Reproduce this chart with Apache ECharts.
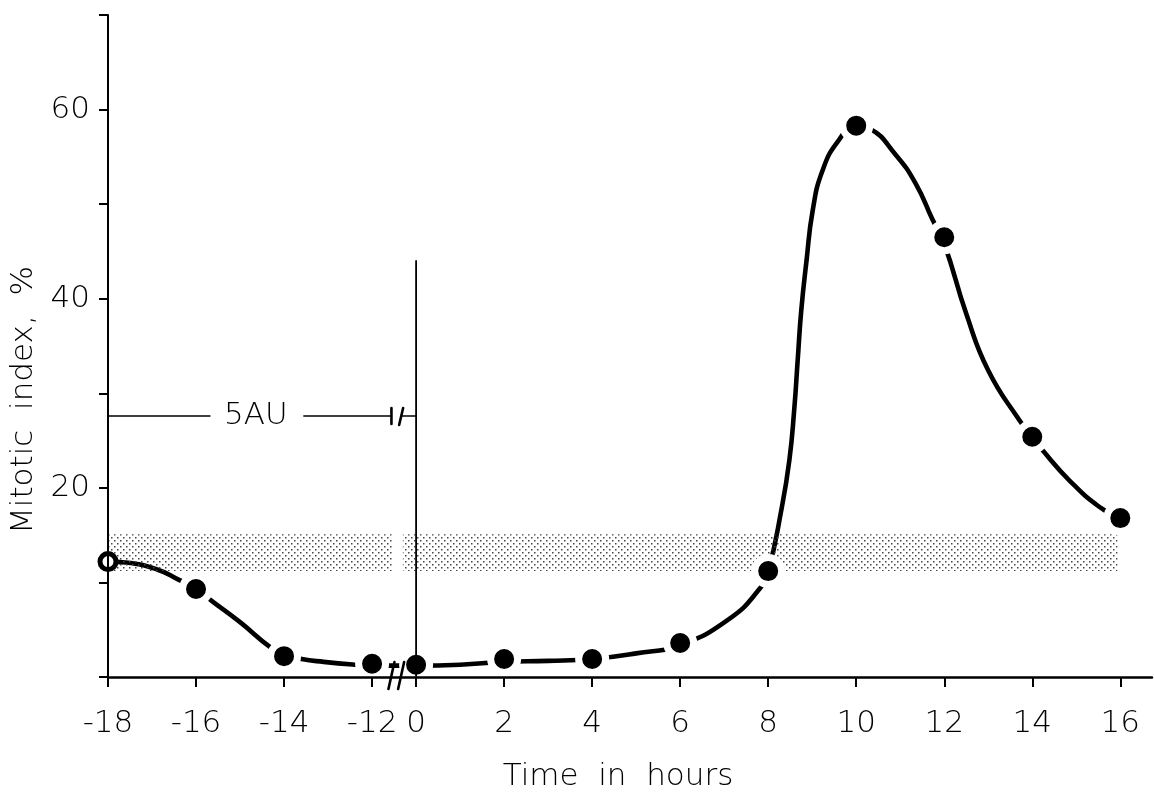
<!DOCTYPE html>
<html>
<head>
<meta charset="utf-8">
<title>Mitotic index</title>
<script src="https://cdn.jsdelivr.net/npm/echarts@6/dist/echarts.min.js"></script>
<style>
  html, body { margin: 0; padding: 0; background: #fff; }
  #chart { width: 1154px; height: 797px; }
</style>
</head>
<body>
<div id="chart"></div>
<script>
var hours = [-18, -16, -14, -12, 0, 2, 4, 6, 8, 10, 12, 14, 16]
var mitoticIndex = [12.2, 9.3, 2.2, 1.4, 1.3, 1.9, 1.9, 3.6, 11.2, 58.3, 46.5, 25.4, 16.8]
// the hand-drawn curve
var curveHours = [-18, -17.6, -16.9, -16.4, -16, -15.6, -15, -14.3, -14, -13.6, -13.1, -12.4, -12,
  0, 1, 2, 3, 4, 5, 6, 7.1, 7.8, 8, 8.3, 8.48, 8.59, 8.67, 8.75, 8.87, 9.01, 9.23, 9.58,
  10, 10.3, 10.9, 11.36, 11.73, 12, 12.5, 13, 13.7, 14, 14.23, 14.84, 15.52, 16]
var curveValues = [12.2, 12.1, 11.4, 10.3, 9.3, 7.9, 5.8, 3.1, 2.4, 1.9, 1.6, 1.3, 1.2,
  1.2, 1.3, 1.6, 1.7, 1.9, 2.5, 3.4, 6.1, 9.3, 11.2, 17.7, 22.9, 28.2, 33.5, 38.7, 44.0, 49.3, 53.5, 56.6,
  58.3, 58.0, 55.2, 52.1, 48.4, 45.8, 38.4, 32.4, 27.2, 25.4, 24.0, 20.8, 18.0, 16.8]
var xTickHours = [-18, -16, -14, -12, 0, 2, 4, 6, 8, 10, 12, 14, 16]
var normalRange = [11.2, 15.1]
var saLevel = 27.6
var saLabel = '5AU'
var zeroLineTop = 44

// time axis is broken between -12 h and 0 h
function toPos (h) {
  return h <= -12 ? (h + 18) / 2 : 3.5 + h / 2
}
function toHour (p) {
  return p <= 3 ? Math.round(p * 2 - 18) : Math.round((p - 3.5) * 2)
}

var FONT = "'DejaVu Sans', sans-serif"
var WEIGHT = 200
var INK = '#000'

// stipple for the shaded band
var dots = document.createElement('canvas')
dots.width = 6
dots.height = 6
var g = dots.getContext('2d')
g.fillStyle = '#444'
g.fillRect(0, 0, 1.5, 1.5)
g.fillRect(3, 3, 1.5, 1.5)

var pointData = hours.map(function (h, i) {
  return [toPos(h), mitoticIndex[i]]
})
var curveData = curveHours.map(function (h, i) {
  return [toPos(h), curveValues[i]]
})

function seg (x1, y1, x2, y2, w) {
  return {
    type: 'line',
    shape: { x1: x1, y1: y1, x2: x2, y2: y2 },
    style: { stroke: INK, lineWidth: w || 1.6, lineCap: 'round' }
  }
}

function renderNotes (params, api) {
  var px = function (p) { return api.coord([p, 0])[0] }
  var py = function (v) { return api.coord([0, v])[1] }
  var y5 = py(saLevel)
  var xTxt = px(1.68)
  var xBar = px(3.22)
  var xSl = px(3.33)
  var xZero = px(toPos(0))
  var yBase = py(0)
  return {
    type: 'group',
    children: [
      seg(px(0), y5, xTxt - 46, y5),
      {
        type: 'text',
        style: {
          text: saLabel, x: xTxt, y: y5, align: 'center', verticalAlign: 'middle',
          font: WEIGHT + ' 31px ' + FONT, fill: INK
        }
      },
      seg(xTxt + 48, y5, xBar, y5),
      seg(xBar, y5 - 8, xBar, y5 + 8, 2.6),
      seg(xSl - 2, y5 + 9, xSl + 2, y5 - 8, 2.6),
      seg(xSl + 1, y5, xZero, y5),
      seg(xZero, py(zeroLineTop), xZero, yBase, 1.8),
      seg(px(3.22) - 3, yBase + 12, px(3.22) + 3, yBase - 15, 2.6),
      seg(px(3.33) - 3, yBase + 12, px(3.33) + 3, yBase - 15, 2.6)
    ]
  }
}

function renderBand (params, api) {
  var a = api.coord([api.value(0), normalRange[1]])
  var b = api.coord([api.value(1), normalRange[0]])
  return {
    type: 'rect',
    shape: { x: a[0], y: a[1], width: b[0] - a[0], height: b[1] - a[1] },
    style: { fill: { image: dots, repeat: 'repeat' } }
  }
}

var chart = echarts.init(document.getElementById('chart'))
var option = {
  animation: false,
  backgroundColor: '#fff',
  textStyle: { fontFamily: FONT, fontWeight: WEIGHT },
  grid: { left: 108, right: 2, top: 15, bottom: 119 },
  xAxis: {
    type: 'value',
    min: 0,
    max: 11.86,
    z: 10,
    name: 'Time  in  hours',
    nameLocation: 'middle',
    nameGap: 84,
    nameTextStyle: { fontSize: 31, color: INK, fontFamily: FONT, fontWeight: WEIGHT, padding: [0, 24, 0, 0] },
    axisLine: { lineStyle: { color: INK, width: 2.5 } },
    axisTick: { customValues: xTickHours.map(toPos), length: 10, lineStyle: { color: INK, width: 2 } },
    axisLabel: {
      customValues: xTickHours.map(toPos),
      margin: 31,
      fontSize: 31,
      fontWeight: WEIGHT,
      color: INK,
      formatter: function (v) { return String(toHour(v)) }
    },
    splitLine: { show: false }
  },
  yAxis: {
    type: 'value',
    min: 0,
    max: 70,
    interval: 10,
    z: 10,
    name: 'Mitotic  index,  %',
    nameLocation: 'middle',
    nameRotate: 90,
    nameGap: 54,
    nameTextStyle: { fontSize: 31, color: INK, fontFamily: FONT, fontWeight: WEIGHT, padding: [0, 108, 0, 0] },
    axisLine: { lineStyle: { color: INK, width: 2 } },
    axisTick: { length: 9, lineStyle: { color: INK, width: 2 } },
    axisLabel: {
      margin: 18,
      fontSize: 31,
      fontWeight: WEIGHT,
      color: INK,
      formatter: function (v) { return v > 0 && v % 20 === 0 ? String(v) : '' }
    },
    splitLine: { show: false }
  },
  series: [
    {
      type: 'line',
      data: curveData,
      smooth: 0.5,
      showSymbol: false,
      silent: true,
      z: 2,
      lineStyle: { color: '#000', width: 4.6, cap: 'round', join: 'round' }
    },
    {
      type: 'custom',
      data: [[0, 3.23], [3.35, 11.47]],
      renderItem: renderBand,
      silent: true,
      z: 4
    },
    {
      // white ring round each dot opens the curve as in the drawing
      type: 'scatter',
      data: pointData.map(function (d, i) {
        if (i === 0) {
          return { value: d, symbolSize: 16, itemStyle: { color: '#fff', borderColor: '#000', borderWidth: 5 } }
        }
        return d
      }),
      symbolSize: 27,
      silent: true,
      z: 6,
      itemStyle: { color: '#000', borderColor: '#fff', borderWidth: 7, opacity: 1 }
    },
    {
      type: 'custom',
      data: [[0, 0]],
      renderItem: renderNotes,
      clip: false,
      silent: true,
      z: 11
    }
  ]
}
chart.setOption(option)
</script>
</body>
</html>
